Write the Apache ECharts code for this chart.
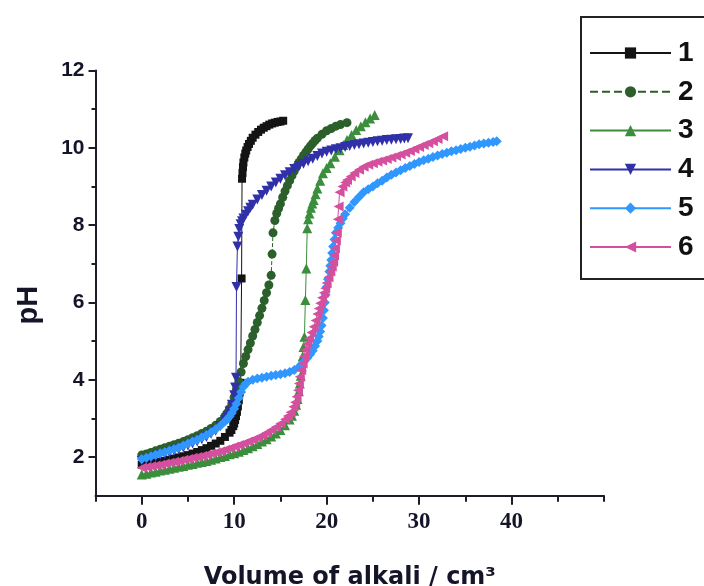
<!DOCTYPE html>
<html>
<head>
<meta charset="utf-8">
<script src="https://cdn.jsdelivr.net/npm/echarts@6/dist/echarts.min.js"></script>
<style>html,body{margin:0;padding:0;background:#fff}#c{width:704px;height:586px}</style>
</head>
<body>
<div id="c"></div>
<script>
const seriesNames = ['1', '2', '3', '4', '5', '6'];
const xMajorTicks = [0, 10, 20, 30, 40];
const xMinorTicks = [-5, 5, 15, 25, 35, 45, 50];
const yMajorTicks = [2, 4, 6, 8, 10, 12];
const yMinorTicks = [3, 5, 7, 9, 11];

const curve1 = [[0,1.8],[0.5,1.82],[1,1.84],[1.5,1.86],[2,1.88],[2.5,1.9],[3,1.93],[3.5,1.96],[4,1.99],[4.5,2.02],[5,2.05],[5.5,2.09],[6,2.13],[6.5,2.18],[7,2.23],[7.5,2.29],[8,2.35],[8.5,2.42],[9,2.52],[9.5,2.63],[9.7,2.7],[9.9,2.8],[10,2.87],[10.1,2.96],[10.2,3.06],[10.3,3.17],[10.4,3.31],[10.5,3.47],[10.6,3.67],[10.7,3.92],[10.8,6.62],[10.85,9.2],[10.9,9.35],[10.95,9.5],[11,9.62],[11.1,9.75],[11.2,9.85],[11.3,9.93],[11.45,10.02],[11.6,10.1],[11.8,10.18],[12,10.26],[12.3,10.34],[12.6,10.41],[12.9,10.47],[13.2,10.52],[13.5,10.56],[13.8,10.6],[14.1,10.63],[14.4,10.65],[14.7,10.67],[15,10.68],[15.3,10.7]];
const curve2 = [[0,2.05],[0.5,2.08],[1,2.12],[1.5,2.16],[2,2.2],[2.5,2.24],[3,2.28],[3.5,2.32],[4,2.36],[4.5,2.4],[5,2.45],[5.5,2.5],[6,2.55],[6.5,2.61],[7,2.67],[7.5,2.74],[8,2.82],[8.5,2.92],[9,3.05],[9.25,3.14],[9.5,3.25],[9.75,3.38],[10,3.55],[10.25,3.75],[10.5,3.95],[10.75,4.2],[11,4.42],[11.25,4.6],[11.5,4.78],[11.75,4.95],[12,5.13],[12.25,5.3],[12.5,5.48],[12.75,5.66],[13,5.85],[13.25,6.05],[13.5,6.25],[13.75,6.45],[14,6.7],[14.1,7.25],[14.2,7.8],[14.4,8.12],[14.6,8.3],[14.8,8.43],[15,8.55],[15.25,8.72],[15.5,8.88],[15.75,9.02],[16,9.15],[16.25,9.28],[16.5,9.4],[16.75,9.51],[17,9.62],[17.25,9.71],[17.5,9.8],[17.75,9.89],[18,9.97],[18.25,10.05],[18.5,10.12],[18.75,10.19],[19,10.25],[19.5,10.35],[20,10.44],[20.5,10.5],[21,10.56],[21.5,10.6],[22.2,10.65]];
const curve3 = [[0,1.55],[0.5,1.57],[1,1.6],[1.5,1.62],[2,1.65],[2.5,1.67],[3,1.7],[3.5,1.72],[4,1.75],[4.5,1.77],[5,1.8],[5.5,1.82],[6,1.85],[6.5,1.87],[7,1.9],[7.5,1.93],[8,1.96],[8.5,2],[9,2.03],[9.5,2.07],[10,2.1],[10.5,2.14],[11,2.18],[11.5,2.23],[12,2.28],[12.5,2.34],[13,2.4],[13.5,2.46],[14,2.53],[14.5,2.61],[15,2.7],[15.5,2.82],[16,2.97],[16.25,3.07],[16.5,3.2],[16.7,3.35],[16.85,3.5],[17,3.7],[17.1,3.9],[17.2,4.1],[17.3,4.35],[17.4,4.6],[17.5,4.85],[17.6,5.11],[17.7,6.06],[17.8,6.88],[17.9,7.92],[18,8.15],[18.15,8.3],[18.3,8.45],[18.45,8.56],[18.6,8.65],[18.8,8.8],[19,8.95],[19.3,9.15],[19.6,9.34],[20,9.48],[20.4,9.6],[20.9,9.77],[21.4,9.94],[21.8,10.07],[22.2,10.2],[22.7,10.33],[23.2,10.46],[23.7,10.56],[24.2,10.66],[24.7,10.76],[25.2,10.85]];
const curve4 = [[0,1.9],[0.5,1.93],[1,1.97],[1.5,2.01],[2,2.05],[2.5,2.08],[3,2.12],[3.5,2.16],[4,2.2],[4.5,2.25],[5,2.3],[5.5,2.35],[6,2.4],[6.5,2.46],[7,2.52],[7.5,2.6],[8,2.68],[8.5,2.8],[9,2.95],[9.25,3.05],[9.5,3.18],[9.75,3.35],[10,3.6],[10.1,3.8],[10.2,4.05],[10.25,6.4],[10.35,7.45],[10.45,7.7],[10.55,7.9],[10.7,8.02],[10.85,8.1],[11,8.17],[11.25,8.27],[11.5,8.36],[11.75,8.45],[12,8.53],[12.5,8.66],[13,8.78],[13.5,8.89],[14,9],[14.5,9.1],[15,9.2],[15.5,9.29],[16,9.37],[16.5,9.45],[17,9.52],[17.5,9.59],[18,9.65],[18.5,9.72],[19,9.79],[19.5,9.85],[20,9.9],[20.5,9.93],[21,9.96],[21.5,9.99],[22,10.02],[22.5,10.05],[23,10.07],[23.5,10.09],[24,10.11],[24.5,10.13],[25,10.15],[25.5,10.17],[26,10.18],[26.5,10.2],[27,10.21],[27.5,10.22],[28,10.23],[28.4,10.24],[28.8,10.25]];
const curve5 = [[0,1.95],[0.5,1.98],[1,2.02],[1.5,2.06],[2,2.1],[2.5,2.13],[3,2.17],[3.5,2.21],[4,2.25],[4.5,2.3],[5,2.35],[5.5,2.4],[6,2.45],[6.5,2.51],[7,2.57],[7.5,2.64],[8,2.72],[8.5,2.81],[9,2.92],[9.25,2.98],[9.5,3.05],[9.75,3.14],[10,3.25],[10.25,3.38],[10.5,3.53],[10.75,3.68],[11,3.82],[11.25,3.9],[11.5,3.95],[12,4],[12.5,4.03],[13,4.05],[13.5,4.08],[14,4.1],[14.5,4.12],[15,4.14],[15.5,4.17],[16,4.2],[16.5,4.25],[17,4.33],[17.3,4.4],[17.6,4.48],[17.9,4.56],[18.2,4.65],[18.5,4.75],[18.75,4.87],[19,5],[19.15,5.12],[19.3,5.25],[19.45,5.4],[19.6,5.6],[19.7,5.8],[19.8,6],[19.9,6.2],[20,6.4],[20.15,6.6],[20.3,6.8],[20.4,6.95],[20.5,7.1],[20.6,7.28],[20.7,7.45],[20.85,7.63],[21,7.8],[21.25,7.93],[21.5,8.05],[21.75,8.17],[22,8.28],[22.5,8.45],[23,8.6],[23.5,8.73],[24,8.85],[24.5,8.93],[25,9],[25.5,9.08],[26,9.15],[26.5,9.23],[27,9.3],[27.5,9.36],[28,9.42],[28.5,9.48],[29,9.53],[29.5,9.58],[30,9.63],[30.5,9.68],[31,9.72],[31.5,9.76],[32,9.8],[32.5,9.84],[33,9.87],[33.5,9.91],[34,9.94],[34.5,9.97],[35,10],[35.5,10.03],[36,10.06],[36.5,10.09],[37,10.11],[37.5,10.13],[38,10.15],[38.4,10.17]];
const curve6 = [[0,1.72],[0.5,1.74],[1,1.76],[1.5,1.78],[2,1.8],[2.5,1.83],[3,1.85],[3.5,1.88],[4,1.9],[4.5,1.93],[5,1.95],[5.5,1.98],[6,2],[6.5,2.03],[7,2.06],[7.5,2.09],[8,2.12],[8.5,2.15],[9,2.19],[9.5,2.23],[10,2.27],[10.5,2.31],[11,2.35],[11.5,2.4],[12,2.45],[12.5,2.5],[13,2.56],[13.5,2.63],[14,2.7],[14.5,2.78],[15,2.87],[15.5,2.98],[15.8,3.06],[16.1,3.16],[16.4,3.3],[16.6,3.42],[16.75,3.56],[16.9,3.73],[17,3.9],[17.1,4.08],[17.25,4.25],[17.4,4.42],[17.55,4.6],[17.7,4.77],[17.9,4.93],[18.1,5.07],[18.35,5.22],[18.6,5.37],[18.8,5.53],[19,5.7],[19.15,5.84],[19.3,5.98],[19.5,6.12],[19.7,6.25],[19.85,6.37],[20,6.5],[20.2,6.65],[20.4,6.8],[20.55,6.93],[20.7,7.05],[20.8,7.22],[20.9,7.4],[21,7.6],[21.1,7.8],[21.2,8.15],[21.3,8.48],[21.4,8.85],[21.7,9],[22,9.1],[22.2,9.17],[22.6,9.26],[23,9.35],[23.5,9.43],[24,9.51],[24.5,9.56],[25,9.6],[25.5,9.64],[26,9.67],[26.5,9.71],[27,9.75],[27.5,9.79],[28,9.83],[28.5,9.87],[29,9.92],[29.5,9.97],[30,10.02],[30.5,10.07],[31,10.12],[31.5,10.17],[32,10.23],[32.6,10.3]];

const curves = [curve1, curve2, curve3, curve4, curve5, curve6];
const colors = ['#141414', '#2b5f2b', '#3b8e3b', '#3030a8', '#3097ff', '#d4509e'];
const symbols = ['rect', 'circle', 'triangle', 'triangle', 'diamond', 'triangle'];
const rotations = [0, 0, 0, 180, 0, 90];
const lineTypes = ['solid', 'dashed', 'solid', 'solid', 'solid', 'solid'];

const chart = echarts.init(document.getElementById('c'), null, {renderer: 'canvas'});
const axisColor = '#1c1c2a';
chart.setOption({
  animation: false,
  backgroundColor: '#ffffff',
  grid: {left: 95.5, right: 100, top: 70.5, bottom: 90.3, containLabel: false, outerBoundsMode: 'none'},
  legend: {
    orient: 'vertical',
    left: 581, top: 17,
    padding: [22, 30, 18, 8],
    borderColor: '#222', borderWidth: 2,
    itemWidth: 81, itemHeight: 14, itemGap: 10.8,
    data: seriesNames,
    textStyle: {fontFamily: 'Liberation Sans, Arial', fontWeight: 'bold', fontSize: 28, color: '#111', padding: [0, 0, 0, 2]}
  },
  xAxis: [{
    type: 'value', min: -5, max: 50,
    name: 'Volume of alkali / cm³', nameLocation: 'middle', nameGap: 70,
    nameTextStyle: {fontFamily: 'DejaVu Sans, Liberation Sans', fontWeight: 'bold', fontSize: 24, color: '#15152a'},
    axisLine: {show: true, onZero: false, lineStyle: {color: axisColor, width: 2}},
    axisTick: {show: true, customValues: xMajorTicks, length: 9, lineStyle: {color: axisColor, width: 2}},
    axisLabel: {customValues: xMajorTicks, margin: 15, fontFamily: 'Liberation Serif, Times New Roman', fontWeight: 'bold', fontSize: 23, color: '#15152a'},
    splitLine: {show: false}
  }, {
    type: 'value', min: -5, max: 50, position: 'bottom',
    axisLine: {show: false, onZero: false},
    axisTick: {show: true, customValues: xMinorTicks, length: 6, lineStyle: {color: axisColor, width: 2}},
    axisLabel: {show: false},
    splitLine: {show: false}
  }],
  yAxis: [{
    type: 'value', min: 1, max: 12,
    name: 'pH', nameLocation: 'middle', nameGap: 52, nameRotate: 90,
    nameTextStyle: {fontFamily: 'Liberation Sans, Arial', fontWeight: 'bold', fontSize: 29, color: '#15152a', padding: [0, 44, 0, 0]},
    axisLine: {show: true, onZero: false, lineStyle: {color: axisColor, width: 2}},
    axisTick: {show: true, customValues: yMajorTicks, length: 7, lineStyle: {color: axisColor, width: 2}},
    axisLabel: {customValues: yMajorTicks, margin: 11, fontFamily: 'Liberation Sans, Arial', fontWeight: 'bold', fontSize: 21, color: '#15152a'},
    splitLine: {show: false}
  }, {
    type: 'value', min: 1, max: 12, position: 'left',
    axisLine: {show: false, onZero: false},
    axisTick: {show: true, customValues: yMinorTicks, length: 4, lineStyle: {color: axisColor, width: 2}},
    axisLabel: {show: false},
    splitLine: {show: false}
  }],
  series: curves.map((d, i) => ({
    name: seriesNames[i],
    type: 'line',
    xAxisIndex: 0, yAxisIndex: 0,
    data: d,
    symbol: symbols[i],
    symbolRotate: rotations[i],
    symbolSize: i === 0 ? 8 : (i === 1 ? 9 : 10),
    showAllSymbol: true,
    color: colors[i],
    lineStyle: {width: 1, color: colors[i], type: lineTypes[i]},
    itemStyle: {color: colors[i]}
  }))
});
</script>
</body>
</html>
